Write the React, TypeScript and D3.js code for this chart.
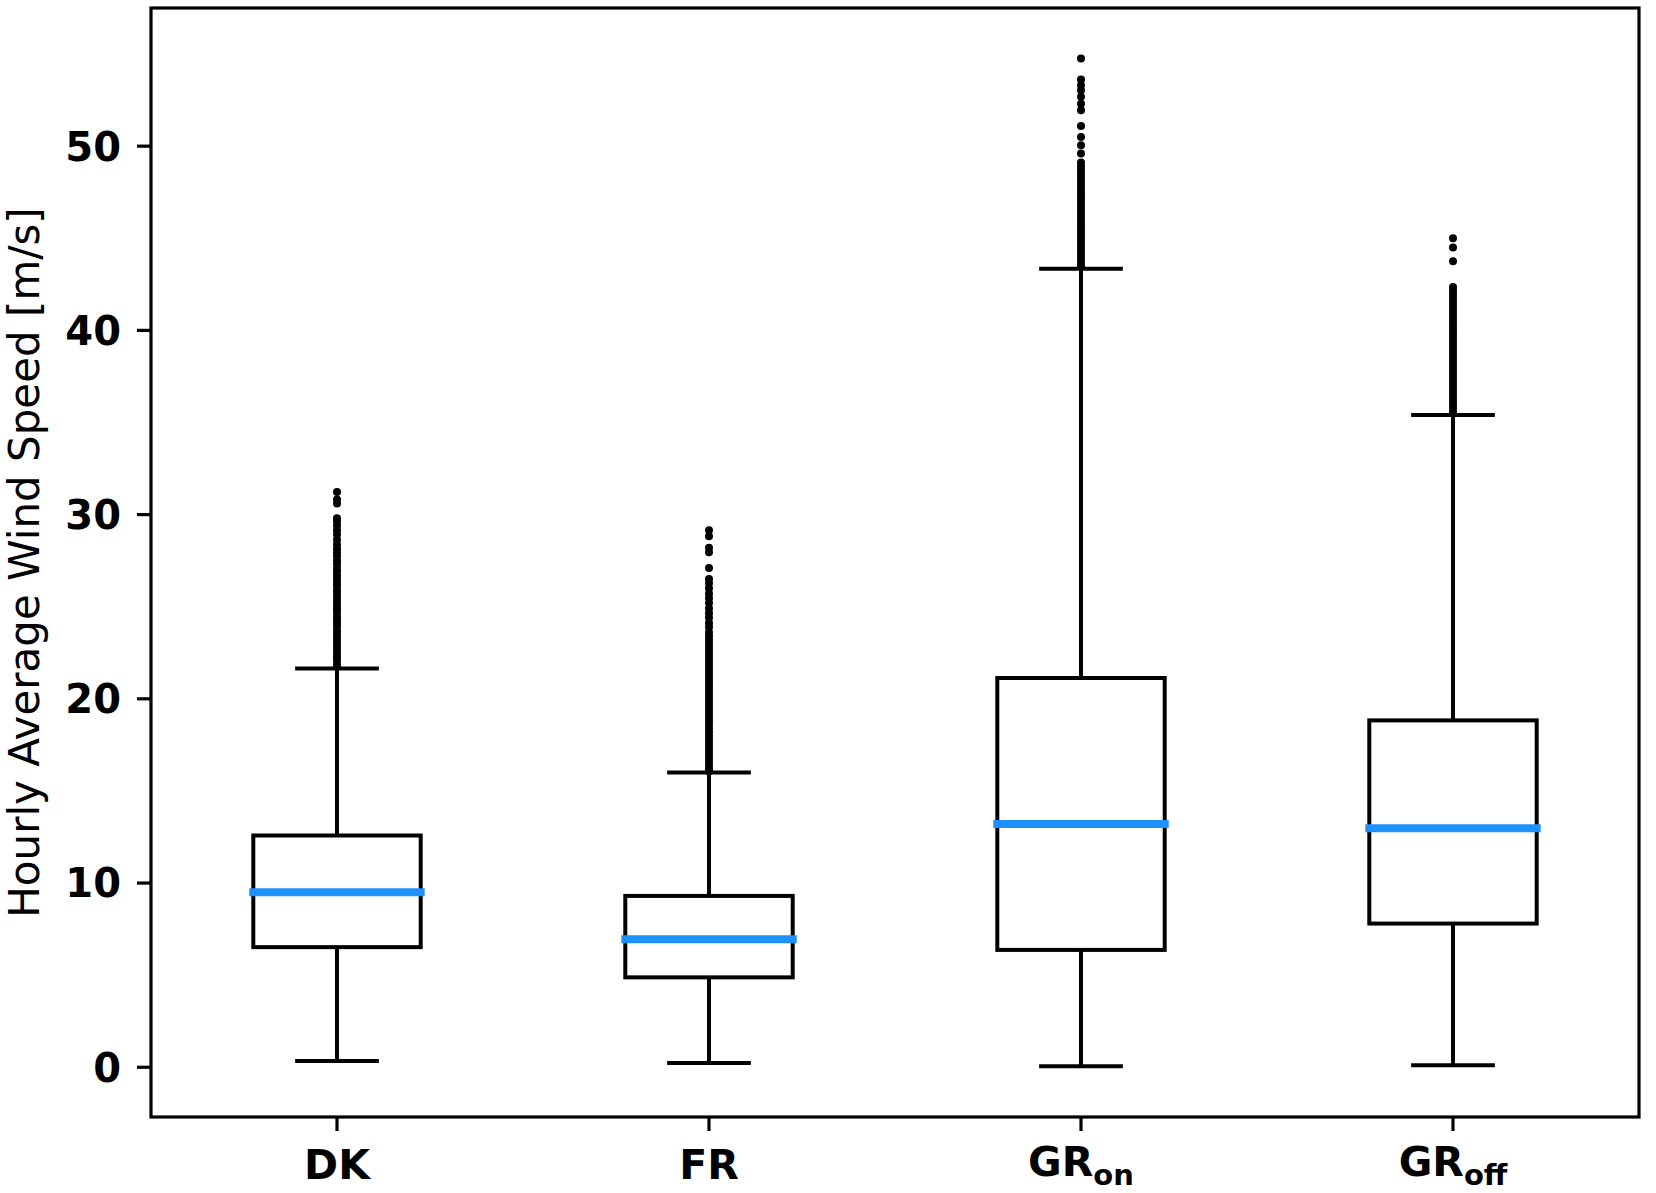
import * as d3 from "d3";

const width = 1656;
const height = 1193;
const plot = { left: 151, right: 1639, top: 8, bottom: 1117 };

// regions and their box statistics (m/s)
const regions = ["DK", "FR", "GR_on", "GR_off"];
const labelMain = ["DK", "FR", "GR", "GR"];
const labelSub = ["", "", "on", "off"];

const whiskerLow = [0.34, 0.23, 0.06, 0.11];
const quartile1 = [6.52, 4.88, 6.37, 7.8];
const medians = [9.5, 6.95, 13.2, 12.97];
const quartile3 = [12.58, 9.3, 21.13, 18.83];
const whiskerHigh = [21.64, 16.0, 43.35, 35.4];

// outliers above the upper whisker
const outliersDK = [
  31.23, 30.82, 30.6, 29.8, 29.62, 29.4, 29.15, 28.92, 28.64, 28.38, 28.15, 27.96,
  27.75, 27.52, 27.33, 27.1, 26.92, 26.71, 26.5, 26.3, 26.12, 25.9, 25.7, 25.48,
  25.3, 25.1, 24.9, 24.72, 24.5, 24.3, 24.1, 23.92, 23.7, 23.5, 23.32, 23.1, 22.9,
  22.72, 22.5, 22.3, 22.12, 21.9, 21.75,
];
const outliersFR = [
  29.15, 28.82, 28.2, 27.96, 27.1, 26.5, 26.28, 26.0, 25.72, 25.46, 25.2, 24.9,
  24.65, 24.4, 24.12, 23.9, 23.62, 23.4, 23.2, 23.0, 22.8, 22.6, 22.4, 22.2, 22.0,
  21.8, 21.6, 21.4, 21.2, 21.0, 20.8, 20.6, 20.4, 20.2, 20.0, 19.8, 19.6, 19.4,
  19.2, 19.0, 18.8, 18.6, 18.4, 18.2, 18.0, 17.8, 17.6, 17.4, 17.2, 17.0, 16.8,
  16.6, 16.4, 16.2, 16.05,
];
const outliersGRon = [
  54.76, 53.62, 53.3, 53.04, 52.68, 52.3, 51.95, 51.1, 50.5, 50.05, 49.6, 49.12,
  48.9, 48.7, 48.5, 48.3, 48.1, 47.9, 47.7, 47.5, 47.3, 47.1, 46.9, 46.7, 46.5,
  46.3, 46.1, 45.9, 45.7, 45.5, 45.3, 45.1, 44.9, 44.7, 44.5, 44.3, 44.1, 43.9,
  43.7, 43.5,
];
const outliersGRoff = [
  45.0, 44.5, 43.75, 42.36, 42.18, 42.0, 41.8, 41.6, 41.4, 41.2, 41.0, 40.8, 40.6,
  40.4, 40.2, 40.0, 39.8, 39.6, 39.4, 39.2, 39.0, 38.8, 38.6, 38.4, 38.2, 38.0,
  37.8, 37.6, 37.4, 37.2, 37.0, 36.8, 36.6, 36.4, 36.2, 36.0, 35.8, 35.6, 35.5,
];
const outliers = [outliersDK, outliersFR, outliersGRon, outliersGRoff];

const yTicks = [0, 10, 20, 30, 40, 50];

const font = "DejaVu Sans, sans-serif";
const boxWidth = 0.45;
const capWidth = 0.225;
const medianColor = "#1e90ff";

export default function App() {
  const x = d3.scaleLinear().domain([0.5, 4.5]).range([plot.left, plot.right]);
  const y = d3.scaleLinear().domain([-2.7, 57.5]).range([plot.bottom, plot.top]);

  return (
    <svg
      width={width}
      height={height}
      viewBox={`0 0 ${width} ${height}`}
      style={{ position: "absolute", left: 0, top: 0, background: "#fff" }}
      fontFamily={font}
    >
      <rect x={0} y={0} width={width} height={height} fill="#fff" />

      {regions.map((key, i) => {
        const cx = x(i + 1);
        const halfBox = x(i + 1 + boxWidth / 2) - cx;
        const halfCap = x(i + 1 + capWidth / 2) - cx;
        return (
          <g key={key}>
            {/* whiskers */}
            <line x1={cx} x2={cx} y1={y(quartile1[i])} y2={y(whiskerLow[i])} stroke="#000" strokeWidth={4} />
            <line x1={cx} x2={cx} y1={y(quartile3[i])} y2={y(whiskerHigh[i])} stroke="#000" strokeWidth={4} />
            {/* caps */}
            <line x1={cx - halfCap} x2={cx + halfCap} y1={y(whiskerLow[i])} y2={y(whiskerLow[i])} stroke="#000" strokeWidth={4} />
            <line x1={cx - halfCap} x2={cx + halfCap} y1={y(whiskerHigh[i])} y2={y(whiskerHigh[i])} stroke="#000" strokeWidth={4} />
            {/* box */}
            <rect
              x={cx - halfBox}
              y={y(quartile3[i])}
              width={halfBox * 2}
              height={y(quartile1[i]) - y(quartile3[i])}
              fill="none"
              stroke="#000"
              strokeWidth={4}
            />
            {/* median */}
            <line
              x1={cx - halfBox}
              x2={cx + halfBox}
              y1={y(medians[i])}
              y2={y(medians[i])}
              stroke={medianColor}
              strokeWidth={8}
              strokeLinecap="square"
            />
            {/* fliers */}
            {outliers[i].map((v, j) => (
              <circle key={j} cx={cx} cy={y(v)} r={4} fill="#000" />
            ))}
          </g>
        );
      })}

      {/* spines */}
      <rect
        x={plot.left}
        y={plot.top}
        width={plot.right - plot.left}
        height={plot.bottom - plot.top}
        fill="none"
        stroke="#000"
        strokeWidth={3.2}
      />

      {/* y axis */}
      {yTicks.map((t) => (
        <g key={t}>
          <line x1={plot.left - 14} x2={plot.left} y1={y(t)} y2={y(t)} stroke="#000" strokeWidth={3.2} />
          <text
            x={plot.left - 30}
            y={y(t)}
            dy="0.36em"
            textAnchor="end"
            fontSize={40}
            fontWeight="bold"
            fill="#000"
          >
            {t}
          </text>
        </g>
      ))}
      <text
        transform={`translate(39, ${(plot.top + plot.bottom) / 2}) rotate(-90)`}
        textAnchor="middle"
        fontSize={42}
        fill="#000"
      >
        Hourly Average Wind Speed [m/s]
      </text>

      {/* x axis */}
      {regions.map((key, i) => {
        const cx = x(i + 1);
        return (
          <g key={key}>
            <line x1={cx} x2={cx} y1={plot.bottom} y2={plot.bottom + 14} stroke="#000" strokeWidth={3.2} />
            <text
              x={cx}
              y={labelSub[i] ? 1176 : 1179}
              textAnchor="middle"
              fontSize={41}
              fontWeight="bold"
              fill="#000"
            >
              <tspan>{labelMain[i]}</tspan>
              {labelSub[i] && (
                <tspan dy={9} fontSize={29}>
                  {labelSub[i]}
                </tspan>
              )}
            </text>
          </g>
        );
      })}
    </svg>
  );
}
